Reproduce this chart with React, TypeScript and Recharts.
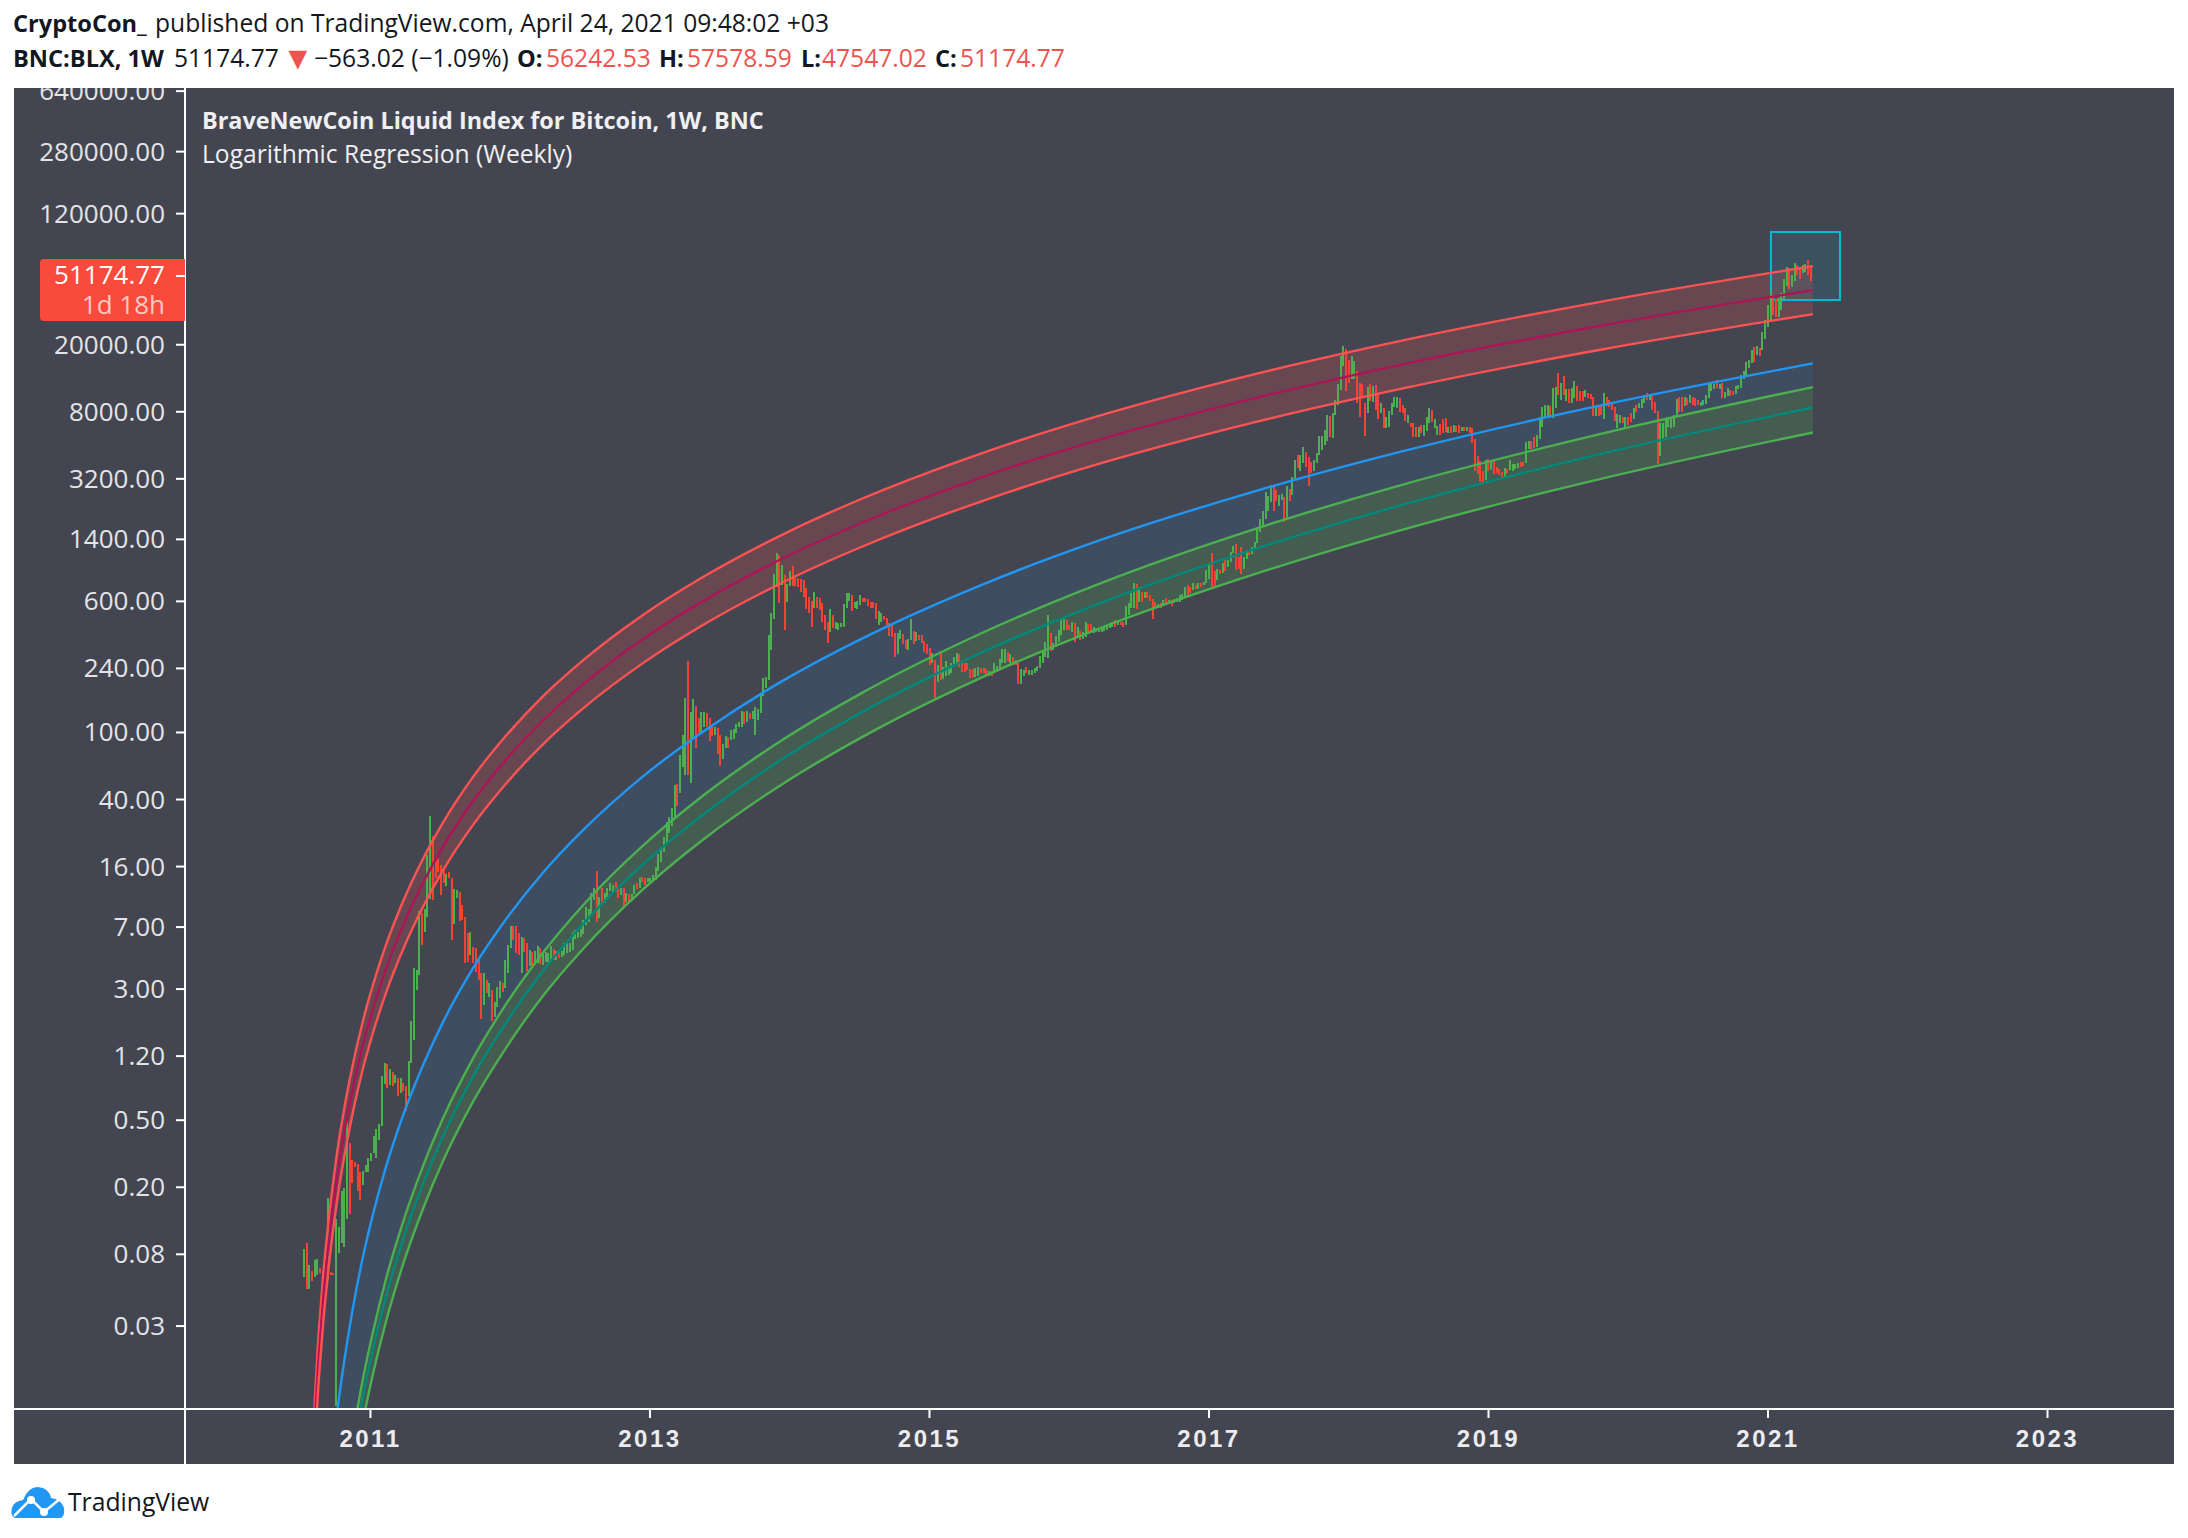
import React from 'react';
import {
  Area,
  Bar,
  ComposedChart,
  Line,
  ReferenceArea,
  XAxis,
  YAxis,
} from 'recharts';

type Week = [number, number, number]; // high, low, 1 = up week

const y2010: Week[] = [
  [.086,.0585,1],[.0935,.0497,0],[.069,.05,1],[.0635,.0555,0],[.0745,.0587,1],[.0755,.06,1],[.066,.0617,0],[.0635,.0317,0],
  [.0635,.0555,0],[.172,.0567,1],[.0625,.06,0],[.0617,.06,0],[.13,.01,1],[.116,.0815,1],[.19,.0935,1],[.198,.0885,1],
  [.49,.13,1],[.365,.139,0],[.29,.212,0],[.282,.264,0],[.276,.19,0],[.246,.168,0],[.25,.206,1],[.27,.246,1],
];
const y2011: Week[] = [
  [.298,.246,1],[.32,.286,1],[.405,.32,1],[.445,.298,1],[.475,.382,1],[.915,.463,1],[1.09,.82,1],[1.08,.78,0],[1,.81,1],[.97,.8,0],[.93,.83,1],[.89,.7,0],[.89,.725,1],
  [.83,.745,0],[.8,.565,0],[1.12,.7,1],[1.94,1.09,1],[4,1.5,1],[3.9,2.95,1],[8.7,3.63,1],[8.45,5.5,0],[8.95,6.55,1],[18.7,8,1],[32,10.3,1],[24.3,10.1,0],[17.2,13.7,0],[17.7,14.9,0],
  [16.3,10.9,0],[15.3,12.8,0],[14.4,12.2,1],[14.9,13.7,0],[13.7,5.9,0],[11.8,7.3,1],[11.6,10.4,1],[11.3,7.6,0],[9.45,7.7,0],[8,4.3,0],[6.45,4.35,0],[6.5,4.8,1],[5.35,4.3,0],
  [5.25,3.8,0],[4.45,3.4,0],[3.75,2,0],[3.75,2.4,1],[3.4,2.85,0],[3.25,2.7,1],[2.95,1.95,0],[2.5,2.05,1],[3.1,2.35,1],[3.35,2.65,1],[3.25,2.9,0],[4.45,3.05,1],
];
const y2012: Week[] = [
  [5.5,3.75,1],[7.1,5.25,1],[7.1,5.9,0],[7.1,4.9,0],[6.45,4.8,0],[6.1,3.75,1],[6,5,0],[5.65,3.85,0],[5.1,4.1,1],[4.95,4.1,0],[5.05,4.2,1],[5.4,4.3,1],[5.25,4.2,0],
  [5,4.15,1],[4.95,4.35,1],[4.9,4.35,1],[5.4,4.47,1],[5.2,4.47,0],[5.05,4.47,1],[4.95,4.6,0],[5.05,4.65,1],[5.65,4.8,1],[5.65,4.9,1],[5.65,4.95,1],[6.55,5.12,1],[6.74,5.95,1],
  [6.55,6.05,1],[6.85,6.1,1],[7.73,6.35,1],[9.25,7.2,1],[8.95,7.5,1],[11.2,8.25,1],[11.9,10.1,1],[15.1,7.5,0],[10.6,7.95,1],[12,9.45,0],[11.2,9.7,1],[12,10.6,1],[12.7,11.5,1],
  [12.5,11.3,1],[13,11.3,0],[12.2,10.4,0],[12,10.9,1],[11.9,9.25,0],[11.2,9.85,1],[11,10,0],[11,10.1,1],[12.5,11,1],[12.7,11.7,0],[13.6,12,1],[13.8,12.9,0],[13.6,12.5,0],[13.6,12.9,1],
];
const y2013: Week[] = [
  [13.6,12.9,1],[14.3,13.2,1],[15.9,13.4,1],[19,15.1,1],[20.9,17.1,1],[24.1,19.6,1],[29.5,22.2,1],[31.6,25.4,1],[35.6,28,1],[48.9,31.6,1],[49.6,36.6,0],[73.6,43.6,1],[97,62.4,1],
  [160,56,1],[265,56,0],[132,50,1],[158,93,1],[143,80.5,0],[122,99,0],[132,99,1],[132,108,1],[130,108,0],[122,89,0],[110,95,0],[108,97,1],[106,75,0],
  [97,63,0],[86,70,1],[95,80.5,1],[94,80.5,0],[103,90,1],[105,91.5,1],[113,99,1],[115,108,1],[134,108,1],[132,113,0],[134,116,1],[130,120,0],[134,120,1],
  [142,97,1],[138,118,1],[171,130,1],[210,165,1],[213,183,1],[379,204,1],[510,309,1],[870,470,1],[1160,730,1],[1130,585,0],[985,750,1],[860,405,0],[760,595,1],
];
const y2014: Week[] = [
  [905,745,1],[975,745,0],[850,745,0],[825,730,0],[815,680,0],[803,640,0],[720,540,0],[640,515,0],[600,425,0],[680,545,1],[640,550,0],[630,532,0],[585,450,0],
  [495,405,0],[455,340,0],[540,395,1],[500,415,0],[450,410,1],[445,405,1],[445,420,1],[575,425,1],[670,545,1],[670,600,1],[650,525,0],[595,550,1],[600,540,1],
  [650,570,1],[630,595,0],[630,595,0],[620,565,0],[595,545,0],[595,550,0],[585,470,0],[525,435,1],[510,455,1],[490,464,0],[480,435,0],[445,375,0],[440,370,0],
  [390,280,0],[390,292,1],[405,360,1],[385,335,0],[354,315,0],[360,309,1],[470,354,1],[400,335,0],[395,350,1],[380,354,0],[380,340,0],[350,300,0],[335,292,0],
];
const y2015: Week[] = [
  [318,252,0],[297,258,1],[268,160,0],[252,198,1],[305,204,0],[245,207,1],[265,215,1],[248,218,1],[258,225,1],[280,245,1],[297,252,1],[292,245,0],[268,228,0],
  [260,228,0],[258,234,0],[237,210,0],[237,210,0],[240,213,1],[245,215,1],[240,225,0],[240,225,0],[237,222,0],[231,215,1],[231,215,0],[258,225,1],[248,228,1],
  [272,234,1],[314,258,1],[314,260,1],[300,265,0],[292,258,1],[280,252,0],[268,252,0],[258,193,0],[237,193,1],[234,215,1],[245,225,0],[234,218,1],[234,218,1],
  [240,225,1],[248,231,1],[284,240,1],[309,258,1],[344,280,1],[497,276,1],[390,304,0],[340,309,1],[373,322,1],[405,344,1],[470,380,1],[470,405,1],[464,405,0],
];
const y2016: Week[] = [
  [435,405,0],[450,395,1],[445,344,0],[420,370,1],[400,354,0],[395,360,1],[450,370,1],[440,390,0],[440,390,0],[420,390,1],[415,395,0],[415,395,1],[420,395,1],
  [425,400,1],[435,405,1],[445,415,1],[450,420,1],[464,425,0],[455,435,1],[455,435,0],[455,425,0],[565,435,1],[585,495,1],[670,550,1],[770,550,1],[760,540,0],
  [700,595,1],[680,595,0],[680,630,1],[680,630,0],[650,600,0],[620,470,0],[595,545,0],[575,545,1],[585,550,0],[612,565,1],[630,575,0],[612,585,1],[612,565,0],
  [620,585,1],[630,595,1],[650,595,1],[660,612,1],[730,630,1],[750,650,0],[730,670,0],[770,700,1],[750,710,0],[770,710,1],[770,730,0],[780,750,1],[920,770,1],
];
const y2017: Week[] = [
  [1000,815,1],[1160,730,0],[905,730,0],[935,803,1],[920,870,0],[1015,880,1],[1070,905,0],[1054,960,1],[1170,1025,1],[1280,1160,1],[1320,920,0],[1100,935,0],[1260,870,0],
  [1100,935,1],[1211,1070,1],[1211,1130,0],[1260,1145,1],[1350,1225,1],[1635,1330,1],[1850,1545,1],[2060,1660,1],[2670,1850,1],[2530,2060,1],[2940,2330,1],[2940,2060,0],[2750,2360,0],
  [2570,2200,1],[2600,2400,1],[2500,1770,0],[2900,1870,1],[2790,2360,0],[3300,2570,1],[4140,3190,1],[4440,3720,0],[4440,3560,1],[4960,3970,1],[4630,3770,0],[4320,2900,0],[4020,3470,0],
  [4140,3560,1],[4570,3970,1],[5760,4440,1],[5760,4750,1],[6230,5070,1],[7660,5360,1],[7550,5670,0],[7880,5590,1],[9410,7660,1],[11660,8780,1],[17100,10780,1],[19700,15000,1],[18870,10640,0],
];
const y2018: Week[] = [
  [16220,11850,0],[17100,12520,1],[16000,12520,1],[13970,9030,0],[11850,7440,0],[11660,9800,0],[9030,5760,0],[11200,7880,1],[11660,9280,0],[11350,9150,1],[11500,8180,0],[10050,7240,0],[9030,7880,1],
  [8400,6410,0],[7440,6410,1],[8070,6500,1],[9030,7660,1],[9800,8520,1],[9800,8400,1],[9670,7960,0],[8780,7880,0],[8400,7040,0],[7660,6860,1],[6860,6500,0],[6860,5670,0],[6500,5670,0],
  [6500,5670,1],[6680,5980,0],[6680,5760,1],[7440,6150,1],[8400,6860,1],[8180,6950,0],[7240,6410,1],[6590,5820,1],[6770,5820,0],[7240,5980,0],[7340,6060,0],[6500,5980,1],[6590,5980,0],
  [6680,6060,1],[6590,6060,0],[6680,5980,0],[6500,6150,1],[6500,6150,0],[6500,6150,1],[6500,5980,0],[6410,5190,0],[5510,3560,0],[4390,3400,0],[4080,3060,0],[3560,3010,0],[4140,3150,1],[4190,3560,0],
];
const y2019: Week[] = [
  [4020,3610,1],[4080,3400,0],[3770,3460,0],[3660,3360,0],[3500,3260,0],[3720,3260,1],[3660,3460,0],[4140,3610,1],[3910,3560,1],[3910,3660,1],[3970,3720,1],[4020,3770,0],[4020,3830,0],
  [5290,3970,1],[5360,4800,1],[5360,4800,0],[5670,4870,0],[5820,4940,1],[7440,5510,1],[8520,6500,1],[8780,7340,1],[8780,7340,1],[8650,7340,0],[11050,7340,1],[11200,8400,1],[13600,10050,0],
  [11850,9410,1],[13020,10050,0],[10920,9280,1],[10920,9030,0],[11050,9030,1],[12180,9670,1],[11350,9280,0],[10640,9280,0],[10640,9280,0],[10780,9800,1],[10350,9670,0],[10200,9540,0],[9800,7550,0],
  [8520,7550,1],[8520,7550,0],[8650,7660,0],[10350,7240,1],[9800,8650,0],[9410,8520,0],[9030,8180,0],[8520,7040,0],[7770,6410,1],[7660,6860,1],[7440,6860,0],[7440,6320,1],[7440,6680,0],
];
const y2020: Week[] = [
  [7880,6950,0],[8400,7240,1],[8780,7960,0],[9030,8400,1],[9540,8400,1],[10050,9030,1],[10350,9410,0],[10200,9410,1],[9930,8180,0],[9150,7880,0],[8070,3910,0],[6860,4390,1],[6860,5590,1],
  [7240,5670,1],[7440,6500,1],[7340,6410,1],[7660,6500,1],[9540,7440,1],[9800,7960,0],[9800,7960,0],[9800,8650,1],[9670,8780,0],[10050,9030,1],[9800,8780,0],[9670,8650,0],[9410,8780,0],
  [9150,8650,1],[9410,8780,1],[10050,8900,1],[12000,9670,1],[11850,10640,1],[11660,10920,1],[12350,11050,0],[11660,10920,1],[11850,9670,0],[10500,9670,1],[11050,9930,1],[10780,9930,0],[10640,10050,0],
  [11350,10200,1],[11500,10920,1],[13200,11050,1],[13970,12520,1],[15750,12850,1],[16220,14580,1],[18600,15560,1],[19400,15750,0],[19700,17460,1],[19100,17220,0],[23700,18600,1],[28000,21600,1],[34500,25400,1],
];
const y2021: Week[] = [
  [41700,27400,1],[39400,29900,0],[37400,29100,0],[37900,29100,1],[40500,32100,1],[49000,37400,1],[58000,44700,1],[57000,42900,0],[51800,44000,1],[61500,47800,1],[59700,51800,0],[57000,49000,0],[59700,53400,1],
  [60500,54100,1],[64000,51800,0],[57578.59,47547.02,0],
];

// regression curves, read at these dates
const curveYears = [2010.589, 2010.596, 2010.603, 2010.614, 2010.624, 2010.639, 2010.66, 2010.682, 2010.703, 2010.732, 2010.767, 2010.818, 2010.875, 2010.946, 2011.018, 2011.111, 2011.233, 2011.376, 2011.519, 2011.733, 2011.948, 2012.234, 2012.521, 2012.95, 2013.379, 2013.952, 2014.524, 2015.383, 2016.241, 2017.315, 2018.388, 2019.819, 2021.321];
const redUpper = [.00631, .00855, .0113, .0165, .0231, .0344, .058, .0904, .134, .211, .346, .621, 1.08, 1.94, 3.18, 5.49, 9.93, 17.8, 29.2, 54.3, 91.2, 164, 268, 498, 836, 1500, 2455, 4570, 7690, 13300, 21230, 36200, 58600];
const redMiddle = [.00455, .00616, .00814, .0119, .0166, .0248, .0418, .0651, .0966, .152, .249, .447, .778, 1.4, 2.29, 3.96, 7.16, 12.8, 21, 39.1, 65.7, 118, 193, 359, 602, 1081, 1769, 3293, 5540, 9580, 15300, 26100, 42230];
const redLower = [.00327, .00444, .00586, .00856, .012, .0179, .0301, .0469, .0695, .11, .18, .322, .561, 1.01, 1.65, 2.85, 5.15, 9.24, 15.2, 28.2, 47.3, 85.1, 139, 258, 434, 779, 1274, 2372, 3990, 6900, 11020, 18800, 30400];
const blueLine = [.000088, .000126, .000175, .000273, .000407, .000652, .00121, .00205, .00326, .0056, .01, .02, .0387, .0771, .138, .264, .533, 1.06, 1.91, 3.98, 7.35, 14.7, 26.3, 54.9, 101, 203, 363, 757, 1403, 2680, 4670, 8790, 15500];
const greenUpper = [.0000078, .0000117, .0000168, .0000277, .000043, .0000726, .000144, .000258, .000434, .000791, .00151, .00326, .00676, .0146, .0277, .057, .124, .267, .513, 1.16, 2.29, 4.93, 9.44, 21.3, 42.1, 90.8, 173, 392, 778, 1600, 2960, 5960, 11220];
const greenMiddle = [.00000635, .00000946, .0000136, .0000223, .0000347, .0000585, .000116, .000207, .000347, .000632, .00121, .00259, .00537, .0115, .0219, .0449, .0979, .21, .402, .904, 1.78, 3.84, 7.31, 16.5, 32.5, 70, 133, 301, 594, 1216, 2250, 4530, 8490];
const greenLower = [.00000451, .00000672, .00000966, .0000158, .0000247, .0000416, .0000824, .000147, .000247, .000449, .00086, .00184, .00382, .00817, .0156, .0319, .0696, .149, .286, .642, 1.26, 2.73, 5.19, 11.7, 23.1, 49.7, 94.5, 214, 422, 864, 1600, 3220, 6030];

const priceTicks = [0.03, 0.08, 0.2, 0.5, 1.2, 3, 7, 16, 40, 100, 240, 600, 1400, 3200, 8000, 20000, 51174.77, 120000, 280000, 640000];
const yearTicks = [2011, 2013, 2015, 2017, 2019, 2021, 2023];
const lastPrice = 51174.77;

const firstWeek = 2010.524;
const weekStep = 0.01922;

const candles = [...y2010, ...y2011, ...y2012, ...y2013, ...y2014, ...y2015, ...y2016, ...y2017, ...y2018, ...y2019, ...y2020, ...y2021].map(
  ([high, low, up], i) => ({ t: firstWeek + i * weekStep, range: [low, high], up })
);

const curveRows = curveYears.map((t, i) => ({
  t,
  redUpper: redUpper[i],
  redMiddle: redMiddle[i],
  redLower: redLower[i],
  blue: blueLine[i],
  greenUpper: greenUpper[i],
  greenMiddle: greenMiddle[i],
  greenLower: greenLower[i],
  redBand: [redLower[i], redUpper[i]],
  blueBand: [greenUpper[i], blueLine[i]],
  greenBand: [greenLower[i], greenUpper[i]],
}));

const PANEL = '#434651';
const UP = '#4caf50';
const DOWN = '#f44336';
const RED = '#ff5252';
const AXIS_FONT = '"Open Sans", sans-serif';
const CURVE_WIDTH = 2.4;

// weekly bars are about 2px wide, the bar width from the number axis is too thin
const WeekBar = ({ x, y, width, height, payload }: any) => (
  <rect x={Math.round(x + width / 2 - 1)} y={y} width={2} height={height} fill={payload.up ? UP : DOWN} shapeRendering="crispEdges" />
);

const PriceTick = ({ y, payload }: any) => {
  const isLast = payload.value === lastPrice;
  return (
    <g>
      {isLast && <path d={`M171 ${y - 17} H30 Q26 ${y - 17} 26 ${y - 13} V${y + 41} Q26 ${y + 45} 30 ${y + 45} H171 Z`} fill="#f94b3b" />}
      <line x1={162} x2={171} y1={y} y2={y} stroke="#fff" strokeWidth={2} />
      <text x={151} y={isLast ? y + 8 : y + 9} textAnchor="end" fontFamily={AXIS_FONT} fontSize={26} fill={isLast ? '#fff' : '#e4e4e6'}>
        {payload.value.toFixed(2)}
      </text>
      {isLast && (
        <text x={151} y={y + 38} textAnchor="end" fontFamily={AXIS_FONT} fontSize={26} fill="#ffc9c2">
          1d 18h
        </text>
      )}
    </g>
  );
};

const Label = ({ x, y, color = '#131722', bold = false, size = 24.6, children }: any) => (
  <span style={{ position: 'absolute', left: x, top: y, color, fontWeight: bold ? 700 : 400, fontSize: size, lineHeight: '30px', whiteSpace: 'nowrap', fontFamily: AXIS_FONT }}>
    {children}
  </span>
);

const App = () => (
  <div style={{ position: 'absolute', left: 0, top: 0, width: 2188, height: 1538, background: '#fff', overflow: 'hidden' }}>
    <Label x={13} y={8} bold size={23.6}>CryptoCon_</Label>
    <Label x={155} y={8}>published on TradingView.com, April 24, 2021 09:48:02 +03</Label>
    <Label x={13} y={43} bold size={23.6}>BNC:BLX, 1W</Label>
    <Label x={174} y={43}>51174.77</Label>
    <Label x={282} y={42} color="#ef5350" size={32}>▼</Label>
    <Label x={314} y={43}>−563.02 (−1.09%)</Label>
    <Label x={517} y={43} bold size={23.6}>O:</Label>
    <Label x={546} y={43} color="#ef5350">56242.53</Label>
    <Label x={659} y={43} bold size={23.6}>H:</Label>
    <Label x={687} y={43} color="#ef5350">57578.59</Label>
    <Label x={801} y={43} bold size={23.6}>L:</Label>
    <Label x={822} y={43} color="#ef5350">47547.02</Label>
    <Label x={935} y={43} bold size={23.6}>C:</Label>
    <Label x={960} y={43} color="#ef5350">51174.77</Label>

    <div style={{ position: 'absolute', left: 14, top: 88, width: 2160, height: 1376, background: PANEL, overflow: 'hidden' }}>
      <ComposedChart width={2160} height={1376} data={candles} margin={{ top: 0, right: 0, bottom: 0, left: 0 }}>
        <XAxis
          type="number"
          dataKey="t"
          scale="linear"
          domain={[2009.673, 2023.905]}
          allowDataOverflow
          ticks={yearTicks}
          interval={0}
          height={55}
          stroke="#fff"
          tickLine={{ stroke: '#fff', strokeWidth: 2 }}
          axisLine={{ stroke: '#fff', strokeWidth: 2 }}
          tickSize={9}
          tickMargin={12}
          tick={{ fill: '#ececee', fontSize: 24, fontWeight: 700, fontFamily: '"Liberation Sans", sans-serif', letterSpacing: 2.5 }}
          tickFormatter={(v: number) => String(v)}
        />
        <YAxis
          type="number"
          scale="log"
          domain={[0.00966, 668000]}
          allowDataOverflow
          ticks={priceTicks}
          interval={0}
          width={171}
          axisLine={{ stroke: '#fff', strokeWidth: 2 }}
          tickLine={false}
          tick={<PriceTick />}
        />
        <Area data={curveRows} type="monotone" dataKey="redBand" stroke="none" fill={RED} fillOpacity={0.2} dot={false} activeDot={false} isAnimationActive={false} />
        <Area data={curveRows} type="monotone" dataKey="blueBand" stroke="none" fill="#2196f3" fillOpacity={0.1} dot={false} activeDot={false} isAnimationActive={false} />
        <Area data={curveRows} type="monotone" dataKey="greenBand" stroke="none" fill={UP} fillOpacity={0.22} dot={false} activeDot={false} isAnimationActive={false} />
        <Line data={curveRows} type="monotone" dataKey="redUpper" stroke={RED} strokeWidth={CURVE_WIDTH} dot={false} isAnimationActive={false} />
        <Line data={curveRows} type="monotone" dataKey="redMiddle" stroke="#ad1457" strokeWidth={CURVE_WIDTH} dot={false} isAnimationActive={false} />
        <Line data={curveRows} type="monotone" dataKey="redLower" stroke={RED} strokeWidth={CURVE_WIDTH} dot={false} isAnimationActive={false} />
        <Line data={curveRows} type="monotone" dataKey="blue" stroke="#2196f3" strokeWidth={CURVE_WIDTH} dot={false} isAnimationActive={false} />
        <Line data={curveRows} type="monotone" dataKey="greenUpper" stroke={UP} strokeWidth={CURVE_WIDTH} dot={false} isAnimationActive={false} />
        <Line data={curveRows} type="monotone" dataKey="greenMiddle" stroke="#00897b" strokeWidth={CURVE_WIDTH} dot={false} isAnimationActive={false} />
        <Line data={curveRows} type="monotone" dataKey="greenLower" stroke={UP} strokeWidth={CURVE_WIDTH} dot={false} isAnimationActive={false} />
        <Bar dataKey="range" barSize={2} shape={<WeekBar />} isAnimationActive={false} />
        <ReferenceArea x1={2021.021} x2={2021.515} y1={36900} y2={93400} fill="#00bcd4" fillOpacity={0.1} stroke="#00bcd4" strokeWidth={2} strokeOpacity={1} />
      </ComposedChart>
    </div>

    {/* axis lines run past the plot area into the scale boxes */}
    <div style={{ position: 'absolute', left: 14, top: 1408, width: 171, height: 2, background: '#fff' }} />
    <div style={{ position: 'absolute', left: 184, top: 1409, width: 2, height: 55, background: '#fff' }} />

    <Label x={202} y={105} color="#f0f0f2" bold size={23.4}>BraveNewCoin Liquid Index for Bitcoin, 1W, BNC</Label>
    <Label x={202} y={139} color="#f0f0f2" size={24.6}>Logarithmic Regression (Weekly)</Label>

    <svg style={{ position: 'absolute', left: 11, top: 1486 }} width={54} height={32} viewBox="0 0 54 32">
      <path d="M4 32 Q-1 30 1 22 Q3 15 12 14 Q17 1 27 1 Q38 2 40 12 Q50 13 53 22 Q54 30 50 32 Z" fill="#2196f3" />
      <path d="M3 30 L20 13 L33 26 L50 12" fill="none" stroke="#fff" strokeWidth={2.5} />
      <circle cx={20} cy={14} r={4} fill="#fff" />
      <circle cx={33} cy={26} r={4} fill="#fff" />
    </svg>
    <Label x={68} y={1487} size={24.7}>TradingView</Label>
  </div>
);

export default App;
